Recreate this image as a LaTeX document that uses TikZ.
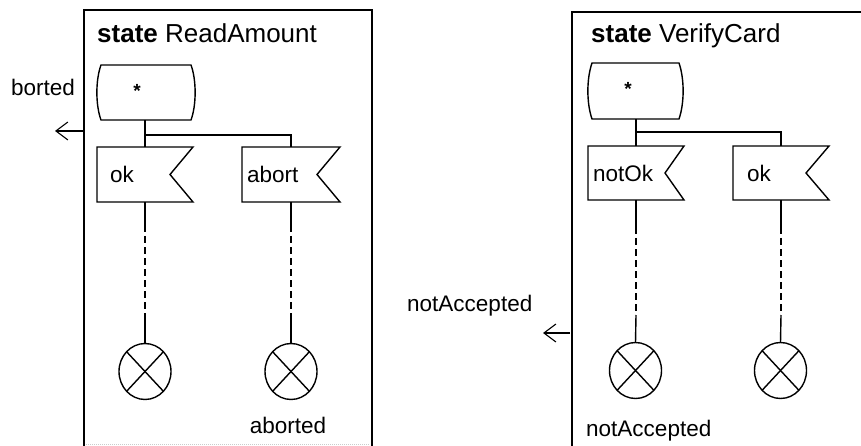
\documentclass[tikz,border=0pt]{standalone}
\usepackage{fontspec}
\setmainfont{Liberation Sans}
\usetikzlibrary{arrows.meta}
\begin{document}
\begin{tikzpicture}[x=1pt,y=-1pt,
  lbl/.style={font=\fontsize{22.5}{27}\selectfont, inner sep=0pt, anchor=base west},
  ttl/.style={font=\fontsize{26}{31}\selectfont, inner sep=0pt, anchor=base west},
  startstar/.style={font=\fontsize{19}{21}\selectfont\bfseries, inner sep=0pt},
  shp/.style={draw, line width=1.4pt, line join=miter},
  frame/.style={draw, line width=1.5pt},
  conn/.style={draw, line width=1.4pt},
  dashconn/.style={draw, line width=1.9pt, dash pattern=on 7pt off 4pt},
  sig/.style={draw, line width=1.1pt, -{Straight Barb[length=12pt,width=18pt,line width=1.1pt]}},
  stopsym/.style={draw, line width=1.4pt}]
\useasboundingbox (0,0) rectangle (861,446);
\clip (0,0) rectangle (861,446);

% ---------------- left frame: ReadAmount ----------------
\draw[frame] (84,460) -- (84,10) -- (372,10) -- (372,460);
\draw[gray!40, line width=1pt, densely dotted] (86,444) -- (370,444);
\node[ttl] (t1) at (97,43) {\textbf{state} ReadAmount};

% start symbol
\draw[shp] (101,65) -- (191,65) .. controls (196.5,80) and (196.5,105) .. (191,120)
  -- (101,120) .. controls (95.5,105) and (95.5,80) .. (101,65) -- cycle;
\node[startstar] (s1) at (137,91) {*};
\coordinate (s1b) at (145,120);
\coordinate (j1) at (145,135);

% flags
\draw[shp] (97,147) -- (193,147) -- (170,174.5) -- (193,202) -- (97,202) -- cycle;
\node[lbl] (f1) at (110,183) {ok};
\coordinate (f1t) at (145,147);
\coordinate (f1b) at (145,202);
\draw[shp] (242,147) -- (340,147) -- (317,174.5) -- (340,202) -- (242,202) -- cycle;
\node[lbl] (f2) at (247,183) {abort};
\coordinate (f2t) at (291,147);
\coordinate (f2b) at (291,202);

\draw[conn] (s1b) -- (f1t);
\draw[conn] (j1) -| (f2t);

% stop symbols
\coordinate (c1) at (145,371.5);
\coordinate (c2) at (291,371.5);
\coordinate (c1t) at (145,343.5);
\coordinate (c2t) at (291,343.5);
\coordinate (d1a) at (145,225);
\coordinate (d1b) at (145,317);
\coordinate (d2a) at (291,225);
\coordinate (d2b) at (291,317);
\draw[conn] (f1b) -- (d1a);
\draw[dashconn] (d1a) -- (d1b);
\draw[conn] (d1b) -- (c1t);
\draw[conn] (f2b) -- (d2a);
\draw[dashconn] (d2a) -- (d2b);
\draw[conn] (d2b) -- (c2t);
\foreach \c in {c1,c2}{
  \draw[stopsym] (\c) ellipse [x radius=26pt, y radius=28pt];
  \draw[stopsym] (\c) ++(-18.4,-19.8) -- ++(36.8,39.6);
  \draw[stopsym] (\c) ++(18.4,-19.8) -- ++(-36.8,39.6);
}
\node[lbl, anchor=base] (a1) at (288,433) {aborted};

% outgoing signal on the left
\node[lbl, anchor=base east] (o1) at (75,96) {borted};
\coordinate (e1) at (83,131);
\coordinate (e1h) at (55,131);
\draw[sig] (e1) -- (e1h);

% ---------------- right frame: VerifyCard ----------------
\draw[frame] (572,460) -- (572,12) -- (870,12);
\node[ttl] (t2) at (591,43) {\textbf{state} VerifyCard};

\draw[shp] (592,63) -- (679,63) .. controls (684.5,79) and (684.5,103) .. (679,119)
  -- (592,119) .. controls (586.5,103) and (586.5,79) .. (592,63) -- cycle;
\node[startstar] (s2) at (628,89) {*};
\coordinate (s2b) at (636,119);
\coordinate (j2) at (636,132);

\draw[shp] (588,146) -- (684,146) -- (665,173) -- (684,200) -- (588,200) -- cycle;
\node[lbl] (f3) at (593,182) {notOk};
\coordinate (f3t) at (636,146);
\coordinate (f3b) at (636,200);
\draw[shp] (733,146) -- (829,146) -- (806,173) -- (829,200) -- (733,200) -- cycle;
\node[lbl] (f4) at (747,182) {ok};
\coordinate (f4t) at (781,146);
\coordinate (f4b) at (781,200);

\draw[conn] (s2b) -- (f3t);
\draw[conn] (j2) -| (f4t);

\coordinate (c3) at (635.5,370.5);
\coordinate (c4) at (780.5,370.5);
\coordinate (c3t) at (635.5,342.5);
\coordinate (c4t) at (780.5,342.5);
\coordinate (d3a) at (636,227);
\coordinate (d3b) at (636,315);
\coordinate (d4a) at (781,227);
\coordinate (d4b) at (781,315);
\draw[conn] (f3b) -- (d3a);
\draw[dashconn] (d3a) -- (d3b);
\draw[conn] (d3b) -- (c3t);
\draw[conn] (f4b) -- (d4a);
\draw[dashconn] (d4a) -- (d4b);
\draw[conn] (d4b) -- (c4t);
\foreach \c in {c3,c4}{
  \draw[stopsym] (\c) ellipse [x radius=26pt, y radius=28pt];
  \draw[stopsym] (\c) ++(-18.4,-19.8) -- ++(36.8,39.6);
  \draw[stopsym] (\c) ++(18.4,-19.8) -- ++(-36.8,39.6);
}
\node[lbl] (a2) at (586,436) {notAccepted};

\node[lbl] (o2) at (407,311) {notAccepted};
\coordinate (e2) at (570,333);
\coordinate (e2h) at (543,333);
\draw[sig] (e2) -- (e2h);
\end{tikzpicture}
\end{document}
